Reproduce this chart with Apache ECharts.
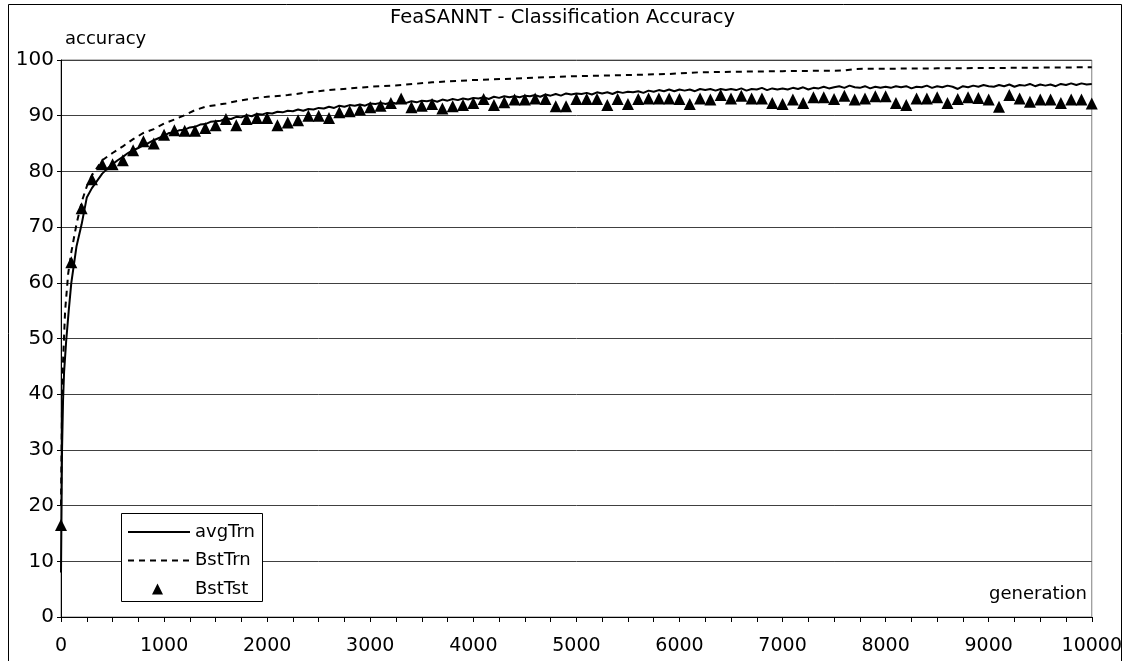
<!DOCTYPE html>
<html>
<head>
<meta charset="utf-8">
<title>FeaSANNT - Classification Accuracy</title>
<script src="https://cdn.jsdelivr.net/npm/echarts@6/dist/echarts.min.js"></script>
<style>
  html, body { margin: 0; padding: 0; background: #fff; }
  #chart { width: 1125px; height: 661px; }
</style>
</head>
<body>
<div id="chart"></div>
<script>
// avgTrn, first 1000 generations: [generation, accuracy]
var avgTrnEarly = [
  [0, 8], [10, 30], [20, 39], [30, 44], [50, 49.5], [75, 55], [100, 60],
  [150, 66.5], [200, 70.5], [250, 75.3], [300, 77], [350, 78.3], [400, 79.6],
  [450, 80.5], [500, 81.3], [550, 82], [600, 82.6], [650, 83.3], [700, 83.8],
  [750, 84.2], [800, 84.7], [850, 85.1], [900, 85.6], [950, 86], [1000, 86.4]
];
// avgTrn, one value every 50 generations from 1050 to 10000
var avgTrnLate = [
  86.9, 87.0, 87.4, 87.5, 87.9, 88.0, 88.4, 88.5, 88.9, 89.0,
  89.1, 89.5, 89.4, 89.8, 89.7, 90.1, 89.9, 90.3, 90.2, 90.5,
  90.4, 90.7, 90.6, 90.9, 90.8, 91.1, 90.9, 91.2, 91.1, 91.4,
  91.3, 91.6, 91.4, 91.8, 91.6, 91.9, 91.8, 92.0, 91.8, 92.2,
  92.1, 92.3, 92.1, 92.4, 92.2, 92.5, 92.3, 92.6, 92.4, 92.7,
  92.6, 92.8, 92.5, 92.9, 92.7, 93.0, 92.8, 93.1, 92.9, 93.2,
  93.1, 93.3, 93.0, 93.4, 93.2, 93.5, 93.3, 93.5, 93.3, 93.6,
  93.5, 93.7, 93.4, 93.8, 93.6, 93.9, 93.6, 94.0, 93.8, 94.0,
  93.9, 94.1, 93.8, 94.2, 94.0, 94.2, 93.9, 94.3, 94.1, 94.3,
  94.2, 94.4, 94.1, 94.5, 94.3, 94.6, 94.4, 94.7, 94.4, 94.7,
  94.5, 94.7, 94.4, 94.8, 94.6, 94.8, 94.5, 94.8, 94.6, 94.8,
  94.6, 94.9, 94.5, 94.8, 94.7, 95.0, 94.6, 94.9, 94.7, 94.9,
  94.7, 95.0, 94.8, 95.1, 94.7, 95.0, 94.9, 95.2, 94.9, 95.1,
  95.3, 95.0, 95.4, 95.1, 95.0, 95.3, 94.9, 95.2, 95.0, 95.2,
  95.0, 95.3, 95.1, 95.3, 94.9, 95.2, 95.1, 95.4, 95.0, 95.3,
  95.1, 95.4, 95.2, 94.8, 95.3, 95.1, 95.4, 95.2, 95.5, 95.3,
  95.2, 95.5, 95.3, 95.6, 95.2, 95.5, 95.4, 95.7, 95.3, 95.6,
  95.4, 95.6, 95.3, 95.7, 95.5, 95.8, 95.5, 95.8, 95.6, 95.7
];
// BstTrn: [generation, accuracy]
var bstTrn = [
  [0, 20], [10, 38], [20, 46], [40, 55], [70, 61.7], [100, 65.5], [150, 70.5],
  [200, 74.5], [250, 77.3], [300, 79.3], [400, 82], [500, 83.3], [600, 84.5],
  [700, 85.8], [800, 86.9], [900, 87.6], [1000, 88.6], [1100, 89.3], [1200, 90.1],
  [1300, 91.0], [1400, 91.6], [1500, 91.9], [1600, 92.2], [1700, 92.6], [1800, 92.9],
  [1900, 93.2], [2000, 93.4], [2200, 93.7], [2400, 94.2], [2600, 94.6], [2800, 94.9],
  [3000, 95.2], [3300, 95.5], [3600, 96.0], [4000, 96.4], [4300, 96.6], [4700, 96.9],
  [5000, 97.1], [5500, 97.3], [5900, 97.5], [6200, 97.8], [6600, 97.9], [7000, 98.0],
  [7600, 98.1], [7700, 98.4], [8500, 98.5], [9300, 98.6], [10000, 98.7]
];
// BstTst, one value every 100 generations from 0 to 10000
var bstTst = [
  16.5, 63.7, 73.4, 78.6, 81.3, 81.3, 82.0, 83.8, 85.4, 85.0,
  86.6, 87.4, 87.3, 87.3, 87.8, 88.3, 89.4, 88.3, 89.4, 89.6,
  89.6, 88.3, 88.8, 89.2, 90.0, 90.0, 89.6, 90.6, 90.8, 91.1,
  91.5, 91.8, 92.3, 93.1, 91.5, 91.8, 92.1, 91.3, 91.7, 91.9,
  92.3, 93.0, 91.9, 92.4, 92.9, 92.9, 93.1, 93.0, 91.7, 91.7,
  93.0, 93.0, 93.0, 91.9, 93.0, 92.1, 93.0, 93.1, 93.1, 93.1,
  93.0, 92.1, 93.1, 92.9, 93.7, 93.1, 93.6, 93.1, 93.1, 92.3,
  92.1, 92.9, 92.3, 93.3, 93.3, 93.0, 93.6, 92.9, 93.1, 93.5,
  93.5, 92.3, 91.9, 93.1, 93.1, 93.3, 92.3, 93.0, 93.3, 93.2,
  92.9, 91.6, 93.7, 93.1, 92.5, 92.9, 92.9, 92.3, 92.9, 92.9,
  92.2
];

var FONT = "DejaVu Sans";

var avgTrnData = avgTrnEarly.slice();
avgTrnLate.forEach(function (v, i) { avgTrnData.push([1050 + i * 50, v]); });
var bstTstData = bstTst.map(function (v, i) { return [i * 100, v]; });

var chart = echarts.init(document.getElementById("chart"));
chart.setOption({
  animation: false,
  backgroundColor: "#fff",
  title: {
    text: "FeaSANNT - Classification Accuracy",
    left: "center",
    top: 8,
    padding: 0,
    textStyle: { fontFamily: FONT, fontSize: 19.5, fontWeight: "normal", color: "#000" }
  },
  grid: {
    left: 61, top: 60, right: 32, bottom: 44,
    show: true, borderColor: "#808080", borderWidth: 1
  },
  xAxis: {
    type: "value",
    min: 0, max: 10000, interval: 1000,
    axisLine: { show: true, lineStyle: { color: "#000", width: 1 } },
    axisTick: { show: true, inside: false, length: 5, lineStyle: { color: "#000" } },
    minorTick: { show: true, splitNumber: 4, length: 5, lineStyle: { color: "#000" } },
    axisLabel: {
      margin: 20, fontFamily: FONT, fontSize: 19, color: "#000",
      formatter: function (v) { return String(v); }
    },
    splitLine: { show: false }
  },
  yAxis: {
    type: "value",
    min: 0, max: 100, interval: 10,
    axisLine: { show: true, lineStyle: { color: "#000", width: 1 } },
    axisTick: { show: true, inside: false, length: 4, lineStyle: { color: "#000" } },
    axisLabel: { margin: 7, fontFamily: FONT, fontSize: 20, color: "#000" },
    splitLine: { show: true, lineStyle: { color: "#404040", width: 1 } }
  },
  legend: [
    {
      orient: "vertical",
      left: 127, top: 523,
      padding: 0,
      itemWidth: 62, itemHeight: 14, itemGap: 10.5,
      selectedMode: false,
      data: ["avgTrn", "BstTrn"],
      itemStyle: { opacity: 0 },
      textStyle: { fontFamily: FONT, fontSize: 18, lineHeight: 18, color: "#000" },
      z: 5
    },
    {
      orient: "vertical",
      left: 152, top: 580,
      padding: 0,
      itemWidth: 11, itemHeight: 11,
      selectedMode: false,
      data: ["BstTst"],
      itemStyle: { opacity: 1 },
      textStyle: { fontFamily: FONT, fontSize: 18, lineHeight: 18, color: "#000", padding: [0, 0, 0, 27] },
      z: 5
    }
  ],
  graphic: [
    {
      type: "rect", z: 0, silent: true,
      shape: { x: 8.5, y: 4.5, width: 1113, height: 700 },
      style: { fill: "none", stroke: "#000", lineWidth: 1 }
    },
    {
      type: "rect", z: 3, silent: true,
      shape: { x: 121.5, y: 513.5, width: 141, height: 88 },
      style: { fill: "#fff", stroke: "#000", lineWidth: 1 }
    },
    {
      type: "text", x: 65, y: 39, silent: true,
      style: { text: "accuracy", fontFamily: FONT, fontSize: 18, fill: "#000", align: "left", verticalAlign: "middle" }
    },
    {
      type: "text", x: 1087, y: 594, silent: true,
      style: { text: "generation", fontFamily: FONT, fontSize: 18, fill: "#000", align: "right", verticalAlign: "middle" }
    }
  ],
  series: [
    {
      name: "avgTrn",
      type: "line",
      data: avgTrnData,
      symbol: "none",
      lineStyle: { color: "#000", width: 2 },
      itemStyle: { color: "#000" }
    },
    {
      name: "BstTrn",
      type: "line",
      data: bstTrn,
      symbol: "none",
      lineStyle: { color: "#000", width: 2, type: [6, 5] },
      itemStyle: { color: "#000" }
    },
    {
      name: "BstTst",
      type: "scatter",
      data: bstTstData,
      symbol: "triangle",
      symbolSize: 12,
      itemStyle: { color: "#000", opacity: 1 }
    }
  ]
});
</script>
</body>
</html>
